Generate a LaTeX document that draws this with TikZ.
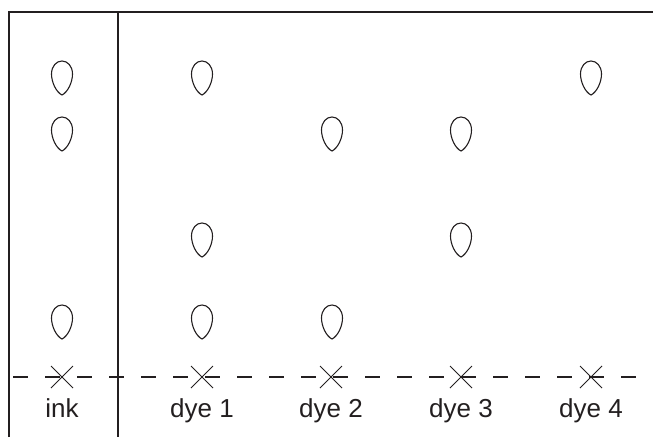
\documentclass[tikz,border=0pt]{standalone}
\usepackage{fontspec}
\setmainfont{Liberation Sans}
\definecolor{ink}{HTML}{231F20}
\begin{document}
\begin{tikzpicture}[x=1pt,y=-1pt,
  frameline/.style={draw=ink,line width=2.8pt},
  thinline/.style={draw=ink,line width=1.1pt},
  baseline/.style={draw=ink,line width=1.8pt,dash pattern=on 15pt off 17pt,dash phase=-4pt},
  crossline/.style={draw=ink,line width=1pt},
  lab/.style={text=ink,font=\fontsize{26}{30}\selectfont,inner sep=0pt,anchor=base},
  spot/.pic={\draw[draw=ink,line width=1.1pt] (0,17) .. controls (-6,14) and (-10.5,4) .. (-10.5,-4) .. controls (-10.5,-12) and (-5.5,-17) .. (0,-17) .. controls (5.5,-17) and (10.5,-12) .. (10.5,-4) .. controls (10.5,4) and (6,14) .. (0,17) -- cycle;}
]
\useasboundingbox (0,0) rectangle (653,437);
% frame
\coordinate (tl) at (9,12);
\coordinate (tr) at (653,12);
\coordinate (bl) at (9,437);
\coordinate (st) at (118,12);
\coordinate (sb) at (118,437);
\draw[thinline] (st) -- (sb);
\coordinate (dl) at (9,377);
\coordinate (dr) at (653,377);
\draw[baseline] (dl) -- (dr);
\draw[frameline] (bl) -- (tl) -- (tr);
% origins and labels
\foreach \n/\x/\t in {a/62/ink,b/202/dye 1,c/331/dye 2,d/461/dye 3,e/591/dye 4}{
  \coordinate (o\n) at (\x,377);
  \draw[crossline] ([shift={(-11,-11)}]o\n) -- ([shift={(11,11)}]o\n);
  \draw[crossline] ([shift={(-11,11)}]o\n) -- ([shift={(11,-11)}]o\n);
  \node[lab] (l\n) at (\x,417) {\t};
}
% spots
\foreach \x/\y in {62/78,62/134,62/322,202/78,202/240,202/322,332/134,332/322,461/134,461/240,591/78}{
  \pic at (\x,\y) {spot};
}
\end{tikzpicture}
\end{document}
